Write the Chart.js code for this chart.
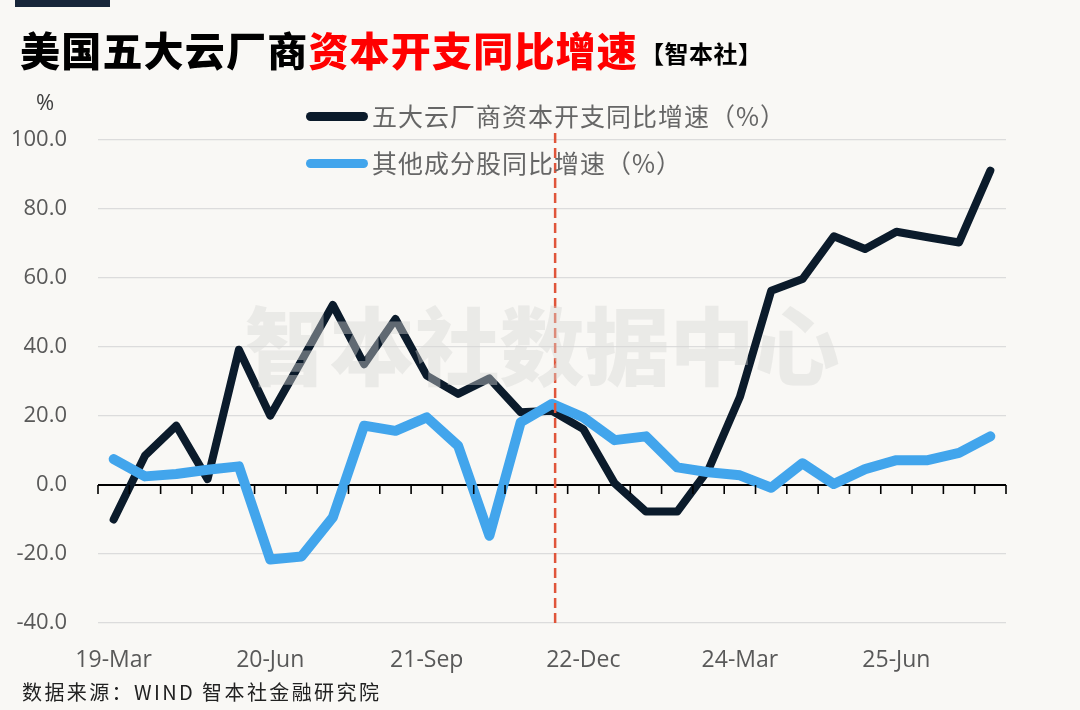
<!DOCTYPE html>
<html>
<head>
<meta charset="utf-8">
<script src="https://cdn.jsdelivr.net/npm/chart.js@4.4.1/dist/chart.umd.min.js"></script>
<style>
  html,body{margin:0;padding:0;background:#f9f8f5;}
  #wrap{position:relative;width:1080px;height:710px;overflow:hidden;background:#f9f8f5;}
  #c{position:absolute;left:0;top:0;}
  .abs{position:absolute;white-space:nowrap;}
  #bar{left:15px;top:0;width:95px;height:7px;background:#17263a;}
  #title{left:20px;top:23px;font-family:"Noto Sans CJK SC";font-weight:900;font-size:40px;line-height:52px;color:#000;letter-spacing:1.2px;}
  #title .red{color:#ff0000;}
  #title .tag{font-size:24px;font-weight:700;margin-left:2px;vertical-align:3px;letter-spacing:0.5px;}
  #pct{left:36px;top:86px;font-family:"Open Sans";font-size:22px;color:#404040;}
  .leg{font-family:"Noto Sans CJK SC";font-size:25px;color:#666;line-height:30px;letter-spacing:1px;}
  .legline{position:absolute;width:62px;height:9px;border-radius:5px;}
  #src{left:22px;top:680px;font-family:"Noto Sans CJK SC";font-size:20px;color:#222;letter-spacing:2.4px;line-height:24px;}
</style>
</head>
<body>
<div id="wrap">
  <canvas id="c" width="1080" height="710"></canvas>
  <div id="bar" class="abs"></div>
  <div id="title" class="abs">美国五大云厂商<span class="red">资本开支同比增速</span><span class="tag">【智本社】</span></div>
  <div id="pct" class="abs">%</div>
  <div class="legline" style="left:306px;top:112px;background:#0b1b2b;"></div>
  <div class="abs leg" style="left:372px;top:100px;" id="leg1"></div>
  <div class="legline" style="left:306px;top:159px;background:#42a5ec;"></div>
  <div class="abs leg" style="left:372px;top:147px;" id="leg2"></div>
  <div id="src" class="abs">数据来源：WIND 智本社金融研究院</div>
</div>
<script>
// ---- data ----
const categories = ['19-Mar','19-Jun','19-Sep','19-Dec','20-Mar','20-Jun','20-Sep','20-Dec','21-Mar','21-Jun','21-Sep','21-Dec','22-Mar','22-Jun','22-Sep','22-Dec','23-Mar','23-Jun','23-Sep','23-Dec','24-Mar','24-Jun','24-Sep','24-Dec','25-Mar','25-Jun','25-Sep','25-Dec','26-Mar'];
const shownLabels = ['19-Mar','20-Jun','21-Sep','22-Dec','24-Mar','25-Jun'];
const seriesNames = ['五大云厂商资本开支同比增速（%）','其他成分股同比增速（%）'];
const cloudCapex = [-10, 8.5, 17.2, 1.7, 39.2, 20.1, 36, 52.2, 35, 48.1, 31.7, 26.4, 30.9, 21.1, 21.5, 16.2, 0.5, -7.7, -7.7, 4.5, 25.5, 56.3, 59.7, 72.1, 68.4, 73.4, 71.8, 70.3, 91.1];
const otherStocks = [7.5, 2.5, 3.2, 4.4, 5.4, -21.6, -20.7, -9.4, 17.2, 15.7, 19.6, 11.4, -14.7, 18.2, 23.5, 19.6, 13.0, 14.1, 5.1, 3.7, 2.8, -0.8, 6.3, 0.3, 4.6, 7.2, 7.2, 9.3, 14.1];
const yTicks = [-40, -20, 0, 20, 40, 60, 80, 100];
const markerIndex = 14.1; // dashed vertical marker position (category index)
const watermarkText = '智本社数据中心';

document.getElementById('leg1').textContent = seriesNames[0];
document.getElementById('leg2').textContent = seriesNames[1];

const extras = {
  id: 'extras',
  afterDatasetsDraw(chart) {
    const ctx = chart.ctx, x = chart.scales.x, y = chart.scales.y, a = chart.chartArea;
    const y0 = y.getPixelForValue(0);
    const w = x.getPixelForValue(1) - x.getPixelForValue(0);
    ctx.save();
    // tick marks on zero line at category boundaries
    ctx.strokeStyle = '#000';
    ctx.lineWidth = 1.6;
    for (let i = 0; i <= categories.length; i++) {
      const px = x.getPixelForValue(0) - w / 2 + i * w;
      ctx.beginPath();
      ctx.moveTo(px, y0);
      ctx.lineTo(px, y0 + 9);
      ctx.stroke();
    }
    // dashed marker
    const mx = x.getPixelForValue(0) + markerIndex * w;
    ctx.strokeStyle = '#e0553a';
    ctx.lineWidth = 2.5;
    ctx.setLineDash([10, 5]);
    ctx.beginPath();
    ctx.moveTo(mx, a.top - 7);
    ctx.lineTo(mx, a.bottom);
    ctx.stroke();
    ctx.setLineDash([]);
    // watermark
    ctx.font = '900 85px "Noto Sans CJK SC"';
    ctx.textAlign = 'center';
    ctx.textBaseline = 'middle';
    ctx.fillStyle = 'rgba(215,214,212,0.42)';
    ctx.fillText(watermarkText, 542, 347);
    ctx.restore();
  }
};

new Chart(document.getElementById('c'), {
  type: 'line',
  data: {
    labels: categories,
    datasets: [
      { label: seriesNames[0], data: cloudCapex, borderColor: '#0b1b2b', borderWidth: 8, order: 1 },
      { label: seriesNames[1], data: otherStocks, borderColor: '#42a5ec', borderWidth: 10, order: 0 }
    ]
  },
  options: {
    responsive: false,
    animation: false,
    devicePixelRatio: 1,
    layout: { padding: { left: 0, right: 74, top: 140, bottom: 0 } },
    elements: {
      point: { radius: 0, hoverRadius: 0 },
      line: { tension: 0, borderJoinStyle: 'round', borderCapStyle: 'round', fill: false }
    },
    plugins: { legend: { display: false }, tooltip: { enabled: false }, title: { display: false } },
    scales: {
      x: {
        type: 'category',
        offset: true,
        grid: { display: false },
        border: { display: false },
        ticks: {
          autoSkip: false, maxRotation: 0, minRotation: 0, padding: 16,
          color: '#595959', font: { family: 'Open Sans', size: 23 },
          callback: function (v, i) { const l = categories[i]; return shownLabels.includes(l) ? l : ''; }
        },
        afterFit: s => { s.height = 87; }
      },
      y: {
        min: yTicks[0], max: yTicks[yTicks.length - 1],
        afterBuildTicks: s => { s.ticks = yTicks.map(v => ({ value: v })); },
        grid: {
          drawTicks: false,
          color: c => c.tick && c.tick.value === 0 ? '#000' : '#dcdcdc',
          lineWidth: c => c.tick && c.tick.value === 0 ? 2 : 1.2
        },
        border: { display: false },
        ticks: {
          padding: 31, color: '#595959', font: { family: 'Open Sans', size: 22 },
          callback: v => Number(v).toFixed(1)
        },
        afterFit: s => { s.width = 98; }
      }
    }
  },
  plugins: [extras]
});
</script>
</body>
</html>
